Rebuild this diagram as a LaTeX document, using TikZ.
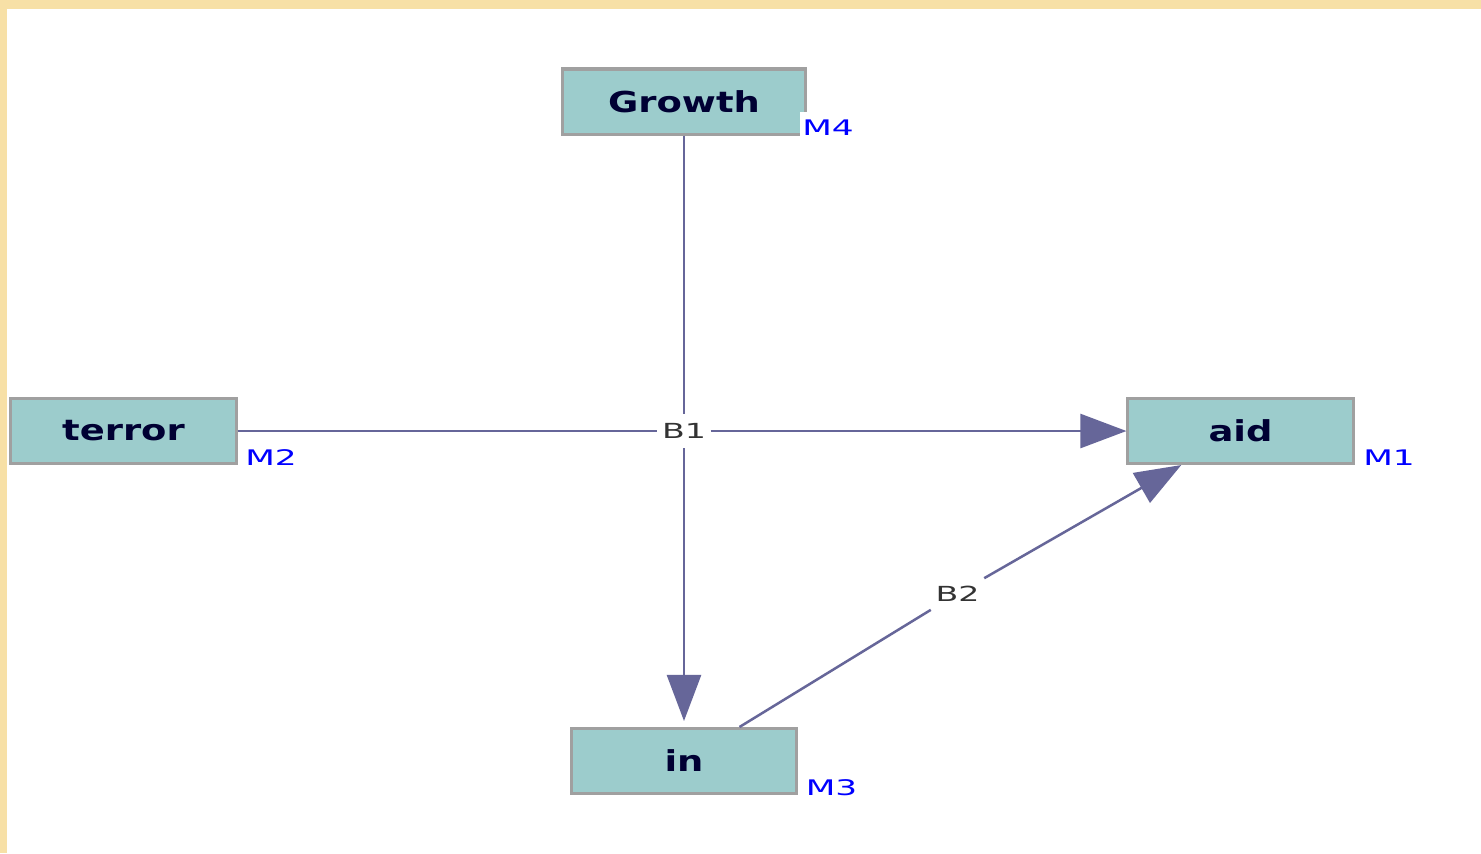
\documentclass[tikz,border=0pt]{standalone}
\usepackage{fontspec}
\usepackage{xcolor}
\usepackage{tikz}
\usetikzlibrary{arrows.meta, positioning}
\newfontfamily\boxfont[FakeStretch=1.28]{DejaVu Sans}
\newfontfamily\tagfont[FakeStretch=1.6]{DejaVu Sans}
\definecolor{boxfill}{RGB}{156,204,204}
\definecolor{boxline}{RGB}{160,160,160}
\definecolor{linkcol}{RGB}{102,102,153}
\definecolor{navytext}{RGB}{0,0,51}
\definecolor{parchment}{RGB}{247,224,166}

\begin{document}
\begin{tikzpicture}[
    x=0.01cm, y=-0.01cm,
    var/.style={rectangle, draw=boxline, line width=0.03cm, fill=boxfill, minimum width=2.25cm, minimum height=0.65cm, inner sep=0pt, text=navytext, font=\fontsize{8.2}{9}\boxfont\bfseries},
    tag/.style={fill=white, inner xsep=0.02cm, inner ysep=0.08cm, text=blue, font=\fontsize{6.1}{7}\tagfont},
    junction/.style={rectangle, fill=white, minimum width=0.52cm, minimum height=0.33cm, inner sep=0pt, text=black!80, font=\fontsize{5.9}{7}\tagfont},
    link/.style={draw=linkcol, line width=0.025cm},
    flow/.style={link, -{Triangle[length=0.46cm, width=0.34cm]}}
]
\useasboundingbox (0,0) rectangle (1481,853);
\fill[parchment] (0,0) rectangle (1481,853);
\fill[white] (7,9) rectangle (1481,853);

% variables
\node[var, minimum width=2.42cm] (growth) at (684,101.5) {Growth};
\node[var] (terror) at (123.5,431) {terror};
\node[var] (aid) at (1240.5,431) {aid};
\node[var] (in) at (684,761) {in};

% model tags
\node[tag, right=0.05cm of terror.south east, anchor=base west] (m2) {M2};
\node[tag, right=0.06cm of aid.south east, anchor=base west] (m1) {M1};
\node[tag, right=0.05cm of in.south east, anchor=base west] (m3) {M3};
\node[tag, right=-0.07cm of growth.south east, anchor=base west] (m4) {M4};

% junctions
\node[junction] (b1) at (684,431) {B1};
\node[junction] (b2) at (957.5,593.5) {B2};

\draw[link] (terror) -- (b1);
\draw[link] (growth) -- (b1);
\draw[flow] (b1) -- (aid);
\draw[flow, shorten >=0.06cm] (b1) -- (in);
\draw[link] (in) -- (b2);
\draw[flow] (b2) -- (aid);
\end{tikzpicture}
\end{document}
